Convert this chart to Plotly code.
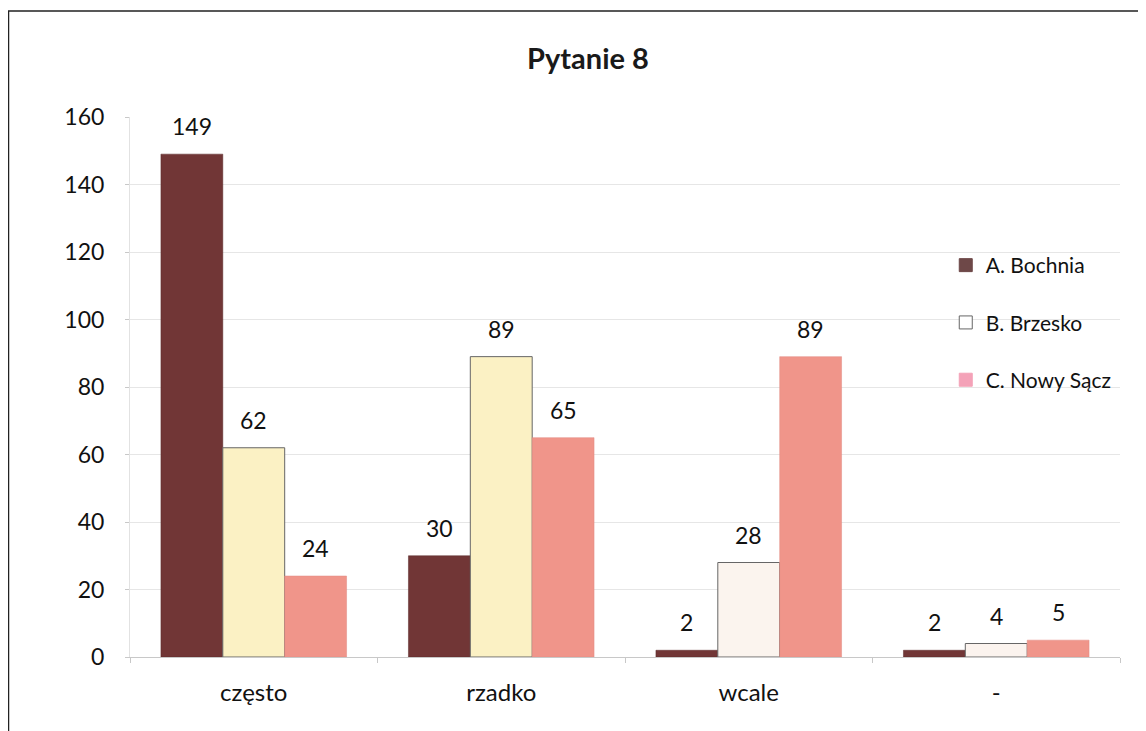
import plotly.graph_objects as go

categories = ["często", "rzadko", "wcale", "-"]
series_names = ["A. Bochnia", "B. Brzesko", "C. Nowy Sącz"]
bochnia = [149, 30, 2, 2]
brzesko = [62, 89, 28, 4]
nowy_sacz = [24, 65, 89, 5]

bochnia_color = "#713636"
brzesko_colors = ["#FBF1C4", "#FBF1C4", "#FBF4EE", "#FBF3EE"]
nowy_color = "#F0958A"
legend_colors = ["#6E4848", "#FFFFFF", "#F4A2B8"]

W, H = 1138, 723
ML, MR, MT, MB = 122, 26, 109, 74
BARGAP = 0.25
plot_w = W - ML - MR
bar_px = plot_w / len(categories) * (1 - BARGAP) / 3

font_family = "Lato, 'Open Sans', sans-serif"
fig = go.Figure()

series = [bochnia, brzesko, nowy_sacz]
bar_colors = [bochnia_color, brzesko_colors, nowy_color]
line_colors = ["#5a2a2a", "#666666", "#E08A80"]
line_widths = [0.5, 1, 0.5]
for vals, col, lc, lw in zip(series, bar_colors, line_colors, line_widths):
    fig.add_trace(go.Bar(x=categories, y=vals, marker=dict(color=col, line=dict(width=lw, color=lc)),
                         showlegend=False, hoverinfo="y"))

# legend-only entries
for name, col in zip(series_names, legend_colors):
    fig.add_trace(go.Scatter(x=[None], y=[None], mode="markers", name=name, legendgroup=name,
                             marker=dict(symbol="square", size=13, color=col,
                                         line=dict(width=1, color="#666" if col == "#FFFFFF" else col))))

# data labels
annotations = []
for si, vals in enumerate(series):
    for cat, v in zip(categories, vals):
        annotations.append(dict(x=cat, y=v, xref="x", yref="y", text=str(v), showarrow=False,
                                xanchor="center", yanchor="bottom", xshift=(si - 1) * bar_px, yshift=12,
                                font=dict(size=23, color="#111", family=font_family)))

fig.update_layout(
    width=W, height=H,
    paper_bgcolor="white", plot_bgcolor="white",
    margin=dict(l=ML, r=MR, t=MT, b=MB),
    barmode="group", bargap=BARGAP, bargroupgap=0,
    font=dict(family=font_family, size=23, color="#111"),
    title=dict(text="<b>Pytanie 8</b>", x=580 / W, xanchor="center", xref="container",
               y=1 - 51 / H, yanchor="middle", yref="container", font=dict(size=29, color="#1a1a1a")),
    legend=dict(x=0.824, y=0.763, xanchor="left", yanchor="top", tracegroupgap=27,
                font=dict(size=21, color="#111"), bgcolor="rgba(0,0,0,0)"),
    xaxis=dict(showgrid=False, showline=True, linecolor="#C8C8C8", ticks="outside", tickson="boundaries",
               ticklen=5, tickcolor="#C8C8C8", tickfont=dict(size=24), ticklabelstandoff=14),
    yaxis=dict(range=[0, 160], dtick=20, showgrid=True, gridcolor="#E6E6E6", gridwidth=1,
               showline=True, linecolor="#E2E2E2", ticks="outside", ticklen=4, tickcolor="#C8C8C8",
               zeroline=False, tickfont=dict(size=23), ticklabelstandoff=16),
    annotations=annotations,
    shapes=[dict(type="rect", xref="paper", yref="paper",
                 x0=-(ML - 0.5) / plot_w, x1=1 + (MR + 20) / plot_w,
                 y0=-(MB + 20) / (H - MT - MB), y1=1 + (MT - 3) / (H - MT - MB),
                 line=dict(color="#222", width=1.5), fillcolor="rgba(0,0,0,0)")],
)

fig.write_html("out.html")
